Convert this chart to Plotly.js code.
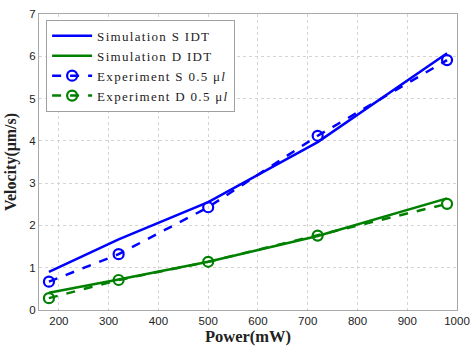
<!DOCTYPE html>
<html>
<head>
<meta charset="utf-8">
<script src="https://cdn.plot.ly/plotly-3.0.1.min.js"></script>
<style>html,body{margin:0;padding:0;background:#fff;}#chart{width:471px;height:348px;}</style>
</head>
<body>
<div id="chart"></div>
<script>
var power = [180, 320, 500, 720, 980];
var simS = [0.90, 1.67, 2.55, 3.97, 6.07];
var simD = [0.41, 0.72, 1.14, 1.75, 2.64];
var expS = [0.67, 1.32, 2.43, 4.12, 5.91];
var expD = [0.28, 0.71, 1.14, 1.76, 2.51];
var seriesNames = ['Simulation S IDT', 'Simulation D IDT', 'Experiment S 0.5 μ<i>l</i>', 'Experiment D 0.5 μ<i>l</i>'];
var xTicks = [200, 300, 400, 500, 600, 700, 800, 900, 1000];
var yTicks = [0, 1, 2, 3, 4, 5, 6, 7];

function lg(s) { return '<span style="letter-spacing:1.3px">' + s + '</span>'; }

var blue = '#0000FF', green = '#008000';
var traces = [
  {x: power, y: simS, name: lg(seriesNames[0]), mode: 'lines', line: {color: blue, width: 2.5}},
  {x: power, y: simD, name: lg(seriesNames[1]), mode: 'lines', line: {color: green, width: 2.5}},
  {x: power, y: expS, name: lg(seriesNames[2]), mode: 'lines+markers',
   line: {color: blue, width: 2.5, dash: 'dash'},
   marker: {symbol: 'circle-open', size: 10, color: blue, line: {width: 2.2, color: blue}}},
  {x: power, y: expD, name: lg(seriesNames[3]), mode: 'lines+markers',
   line: {color: green, width: 2.5, dash: 'dash'},
   marker: {symbol: 'circle-open', size: 10, color: green, line: {width: 2.2, color: green}}}
];

var axisCommon = {
  showgrid: true, gridcolor: '#d4d4d4', griddash: 'dot', gridwidth: 1,
  zeroline: false, showline: true, linecolor: '#a8a8a8', linewidth: 1, mirror: true,
  ticks: '',
  tickfont: {family: 'Liberation Sans, Arial, sans-serif', size: 11.5, color: '#222'}
};

var layout = {
  width: 471, height: 348,
  margin: {l: 39, r: 14, t: 14, b: 38},
  paper_bgcolor: '#fff', plot_bgcolor: '#fff',
  showlegend: true,
  xaxis: Object.assign({}, axisCommon, {
    range: [160, 1000], tickvals: xTicks, ticktext: xTicks.map(String),
    title: {text: '<b>Power(mW)</b>', font: {family: 'Liberation Serif, Times New Roman, serif', size: 16.5, color: '#222'}, standoff: 3}
  }),
  yaxis: Object.assign({}, axisCommon, {
    range: [0, 7], tickvals: yTicks, ticktext: yTicks.map(String),
    title: {text: '<b>Velocity(μm/s)</b>', font: {family: 'Liberation Serif, Times New Roman, serif', size: 16, color: '#222'}, standoff: 8}
  }),
  legend: {
    x: 0.017, y: 0.98, xanchor: 'left', yanchor: 'top',
    bgcolor: '#fff', bordercolor: '#a0a0a0', borderwidth: 1,
    font: {family: 'Liberation Serif, Times New Roman, serif', size: 13, color: '#222'},
    tracegroupgap: 0, itemwidth: 40
  }
};

Plotly.newPlot('chart', traces, layout, {displayModeBar: false, staticPlot: true});
</script>
</body>
</html>
